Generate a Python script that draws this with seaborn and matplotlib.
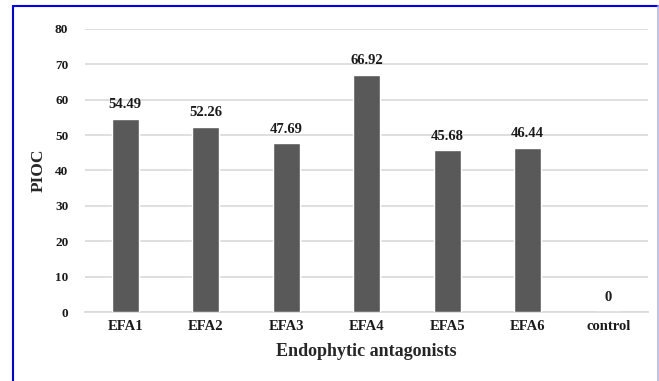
import pandas as pd
import matplotlib.pyplot as plt
import seaborn as sns
from matplotlib.lines import Line2D

# data
categories = ['EFA1', 'EFA2', 'EFA3', 'EFA4', 'EFA5', 'EFA6', 'control']
pioc = [54.49, 52.26, 47.69, 66.92, 45.68, 46.44, 0]
yticks = [0, 10, 20, 30, 40, 50, 60, 70, 80]

df = pd.DataFrame({'group': categories, 'PIOC': pioc})

sns.set_theme(style='white')
plt.rcParams['font.family'] = ['Liberation Serif', 'DejaVu Serif']
plt.rcParams['font.weight'] = 'bold'

fig = plt.figure(figsize=(6.59, 3.81), dpi=100)
ax = fig.add_axes([0.129, 0.181, 0.855, 0.743])

sns.barplot(data=df, x='group', y='PIOC', color='#595959', width=0.33,
            saturation=1, ax=ax, zorder=3)

for i, v in enumerate(pioc):
    ax.text(i, v + 2.2, f'{v:g}' if v == 0 else f'{v:.2f}', ha='center', va='bottom',
            fontsize=10.5, fontweight='bold', color='#1a1a1a')

ax.set_ylim(0, 80)
ax.set_yticks(yticks)
ax.yaxis.grid(True, color='#d9d9d9', linewidth=1.2, zorder=0)
ax.set_axisbelow(True)
for s in ['left', 'right', 'top']:
    ax.spines[s].set_visible(False)
ax.spines['bottom'].set_color('#d9d9d9')
ax.spines['bottom'].set_linewidth(1.2)

ax.tick_params(axis='x', labelsize=10.5, pad=6, length=0)
ax.tick_params(axis='y', labelsize=9.5, pad=12, length=0)
for lab in ax.get_xticklabels() + ax.get_yticklabels():
    lab.set_fontweight('bold')
    lab.set_color('#1a1a1a')

ax.set_xlabel('Endophytic antagonists', fontsize=13, fontweight='bold', labelpad=7)
ax.set_ylabel('PIOC', fontsize=12.5, fontweight='bold', labelpad=6)

# blue frame around the chart
fig.add_artist(Line2D([0.019, 0.019], [0, 0.985], color='#0000ee', lw=1.5,
                      transform=fig.transFigure))
fig.add_artist(Line2D([0.019, 0.998], [0.985, 0.985], color='#0000ee', lw=1.5,
                      transform=fig.transFigure))
fig.add_artist(Line2D([0.998, 0.998], [0, 0.985], color='#b0b0ff', lw=1.2,
                      transform=fig.transFigure))

fig.savefig('out.png', dpi=100)
